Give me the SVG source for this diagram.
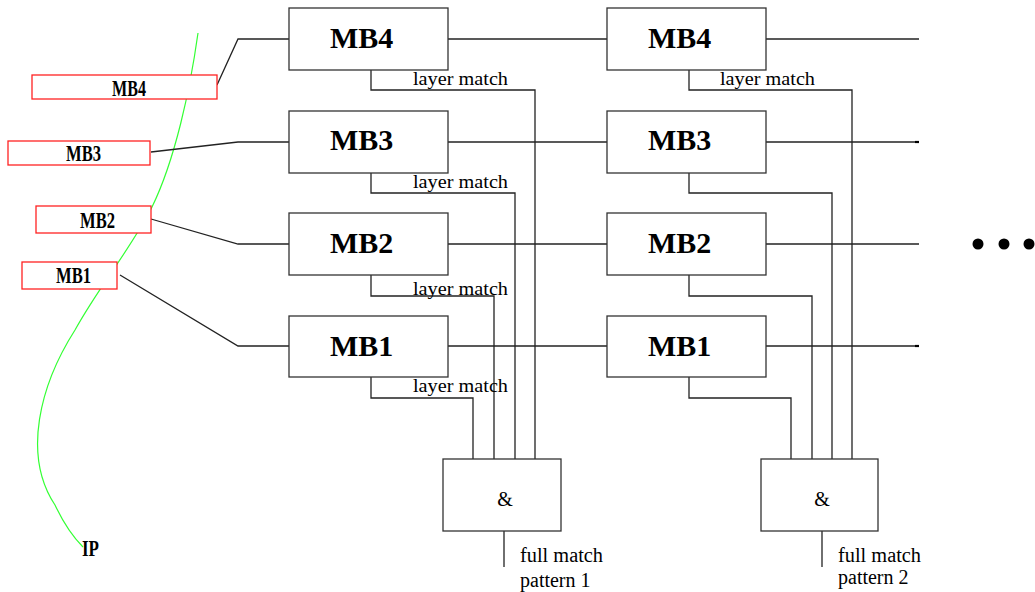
<svg xmlns="http://www.w3.org/2000/svg" width="1035" height="592" viewBox="0 0 1035 592">
<style>
.box{fill:#fff;stroke:#333;stroke-width:1.3}
.rbox{fill:#fff;stroke:#f22;stroke-width:1.3}
.ln{fill:none;stroke:#222;stroke-width:1.3}
.mb{font-family:"Liberation Serif",serif;font-weight:bold;font-size:30px;fill:#000}
.lb{font-family:"Liberation Serif",serif;font-weight:bold;font-size:24px;fill:#000}
.t{font-family:"Liberation Serif",serif;font-size:18px;fill:#000}
.o{font-family:"Liberation Serif",serif;font-size:20px;fill:#000}
</style>
<rect width="1035" height="592" fill="#fff"/>
<path d="M198,33 C190,90 175,160 152,207 C130,250 100,285 75,330 C40,385 22,455 55,505 C63,522 73,537 83,547" fill="none" stroke="#3f3" stroke-width="1.2"/>
<g id="connectors">
<polyline class="ln" points="217,85 238,39 289,39"/>
<polyline class="ln" points="151,152 238,142 289,142"/>
<polyline class="ln" points="151,219 238,244 289,244"/>
<polyline class="ln" points="120,275 238,346 289,346"/>
<line class="ln" x1="448" y1="39" x2="607" y2="39"/>
<line class="ln" x1="448" y1="142" x2="607" y2="142"/>
<line class="ln" x1="448" y1="244" x2="607" y2="244"/>
<line class="ln" x1="448" y1="346" x2="607" y2="346"/>
<line class="ln" x1="766" y1="39" x2="919" y2="39"/>
<line class="ln" x1="766" y1="142" x2="919" y2="142"/>
<line class="ln" x1="766" y1="244" x2="919" y2="244"/>
<line class="ln" x1="766" y1="346" x2="919" y2="346"/>
<line x1="915" y1="142" x2="919" y2="142" stroke="#000" stroke-width="2.2"/>
<line x1="915" y1="346" x2="919" y2="346" stroke="#000" stroke-width="2.2"/>
<polyline class="ln" points="371,70 371,90 535,90 535,459"/>
<polyline class="ln" points="371,173 371,193 515,193 515,459"/>
<polyline class="ln" points="371,275 371,296 494,296 494,459"/>
<polyline class="ln" points="371,377 371,398 473,398 473,459"/>
<polyline class="ln" points="689,70 689,90 852,90 852,459"/>
<polyline class="ln" points="689,173 689,193 832,193 832,459"/>
<polyline class="ln" points="689,275 689,296 812,296 812,459"/>
<polyline class="ln" points="689,377 689,398 791,398 791,459"/>
<line class="ln" x1="504" y1="531" x2="504" y2="567"/>
<line class="ln" x1="822" y1="531" x2="822" y2="567"/>
</g>
<g id="in-mb4"><rect class="rbox" x="32" y="75" width="185" height="24"/><text class="lb" x="112" y="96" textLength="34" lengthAdjust="spacingAndGlyphs">MB4</text></g>
<g id="in-mb3"><rect class="rbox" x="8" y="141" width="142" height="24"/><text class="lb" x="66" y="161" textLength="35" lengthAdjust="spacingAndGlyphs">MB3</text></g>
<g id="in-mb2"><rect class="rbox" x="36" y="206" width="115" height="27"/><text class="lb" x="80" y="228" textLength="35" lengthAdjust="spacingAndGlyphs">MB2</text></g>
<g id="in-mb1"><rect class="rbox" x="22" y="262" width="95" height="27"/><text class="lb" x="56" y="283" textLength="35" lengthAdjust="spacingAndGlyphs">MB1</text></g>
<g id="ip"><text class="lb" x="82" y="556" textLength="17" lengthAdjust="spacingAndGlyphs">IP</text></g>
<g id="c1-mb4"><rect class="box" x="289" y="8" width="159" height="62"/><text class="mb" x="330" y="48">MB4</text></g>
<g id="c1-mb3"><rect class="box" x="289" y="111" width="159" height="62"/><text class="mb" x="330" y="150">MB3</text></g>
<g id="c1-mb2"><rect class="box" x="289" y="213" width="159" height="62"/><text class="mb" x="330" y="253">MB2</text></g>
<g id="c1-mb1"><rect class="box" x="289" y="316" width="159" height="61"/><text class="mb" x="330" y="356">MB1</text></g>
<g id="c2-mb4"><rect class="box" x="607" y="8" width="159" height="62"/><text class="mb" x="648" y="48">MB4</text></g>
<g id="c2-mb3"><rect class="box" x="607" y="111" width="159" height="62"/><text class="mb" x="648" y="150">MB3</text></g>
<g id="c2-mb2"><rect class="box" x="607" y="213" width="159" height="62"/><text class="mb" x="648" y="253">MB2</text></g>
<g id="c2-mb1"><rect class="box" x="607" y="316" width="159" height="61"/><text class="mb" x="648" y="356">MB1</text></g>
<g id="labels">
<text class="t" x="413" y="85" textLength="95" lengthAdjust="spacingAndGlyphs">layer match</text>
<text class="t" x="413" y="188" textLength="95" lengthAdjust="spacingAndGlyphs">layer match</text>
<text class="t" x="413" y="295" textLength="95" lengthAdjust="spacingAndGlyphs">layer match</text>
<text class="t" x="413" y="392" textLength="95" lengthAdjust="spacingAndGlyphs">layer match</text>
<text class="t" x="720" y="85" textLength="95" lengthAdjust="spacingAndGlyphs">layer match</text>
</g>
<g id="and1"><rect class="box" x="443" y="459" width="118" height="72"/><text class="o" x="505" y="506" text-anchor="middle" font-size="22">&amp;</text></g>
<g id="and2"><rect class="box" x="761" y="459" width="117" height="72"/><text class="o" x="822" y="506" text-anchor="middle" font-size="22">&amp;</text></g>
<g id="out1"><text class="o" x="520" y="562" textLength="83" lengthAdjust="spacingAndGlyphs">full match</text><text class="o" x="520" y="587">pattern 1</text></g>
<g id="out2"><text class="o" x="838" y="562" textLength="83" lengthAdjust="spacingAndGlyphs">full match</text><text class="o" x="838" y="584">pattern 2</text></g>
<g id="dots" fill="#000"><circle cx="978" cy="244" r="5.5"/><circle cx="1004" cy="244" r="5.5"/><circle cx="1029" cy="244" r="5.5"/></g>
</svg>
